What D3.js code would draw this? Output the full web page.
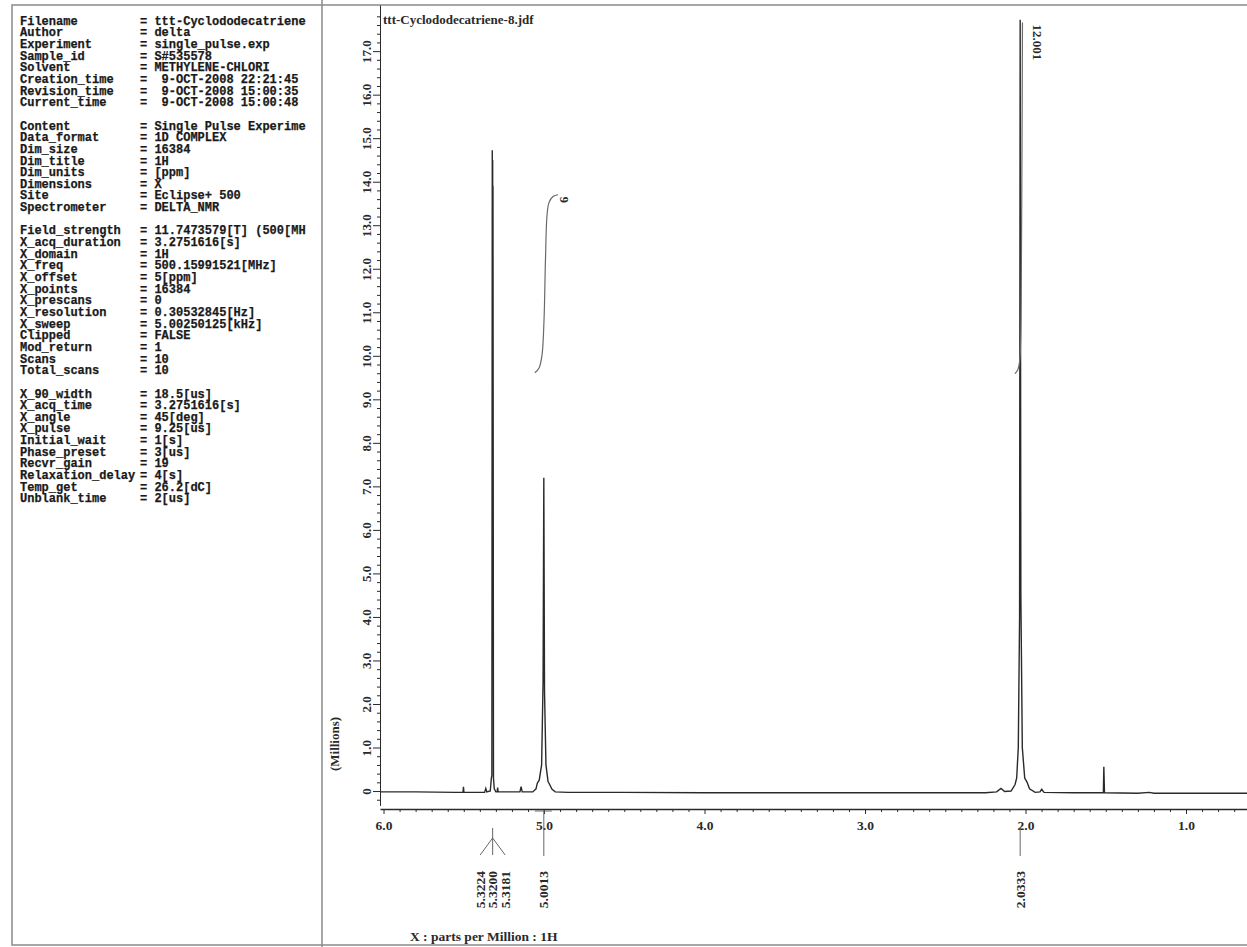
<!DOCTYPE html>
<html>
<head>
<meta charset="utf-8">
<script src="https://cdn.jsdelivr.net/npm/d3@7"></script>
<style>
body{margin:0;background:#fff;}
svg{display:block;}
.serif{font-family:"Liberation Serif","Times New Roman",serif;font-weight:bold;}
.mono{font-family:"Liberation Mono","Courier New",monospace;font-weight:bold;font-size:12px;}
</style>
</head>
<body>
<svg id="chart" width="1247" height="947"></svg>
<script>
// parameter listing (null = blank line)
const paramNames = ["Filename","Author","Experiment","Sample_id","Solvent","Creation_time","Revision_time","Current_time",null,
  "Content","Data_format","Dim_size","Dim_title","Dim_units","Dimensions","Site","Spectrometer",null,
  "Field_strength","X_acq_duration","X_domain","X_freq","X_offset","X_points","X_prescans","X_resolution","X_sweep","Clipped","Mod_return","Scans","Total_scans",null,
  "X_90_width","X_acq_time","X_angle","X_pulse","Initial_wait","Phase_preset","Recvr_gain","Relaxation_delay","Temp_get","Unblank_time"];
const paramValues = ["ttt-Cyclododecatriene","delta","single_pulse.exp","S#535578","METHYLENE-CHLORI"," 9-OCT-2008 22:21:45"," 9-OCT-2008 15:00:35"," 9-OCT-2008 15:00:48",null,
  "Single Pulse Experime","1D COMPLEX","16384","1H","[ppm]","X","Eclipse+ 500","DELTA_NMR",null,
  "11.7473579[T] (500[MH","3.2751616[s]","1H","500.15991521[MHz]","5[ppm]","16384","0","0.30532845[Hz]","5.00250125[kHz]","FALSE","1","10","10",null,
  "18.5[us]","3.2751616[s]","45[deg]","9.25[us]","1[s]","3[us]","19","4[s]","26.2[dC]","2[us]"];

// spectrum (ppm, millions)
const specPpm = [6.05,5.80,5.55,5.505,5.502,5.499,5.37,5.363,5.356,5.335,5.328,5.325,5.3224,5.3212,5.3200,5.3188,5.3181,5.315,5.31,5.30,
  5.292,5.289,5.286,5.15,5.143,5.136,5.07,5.05,5.042,5.03,5.015,5.006,5.0013,4.997,4.988,4.975,4.965,4.95,4.93,
  4.85,4.5,4.0,3.5,3.0,2.5,2.25,2.18,2.153,2.13,2.09,2.065,2.055,2.045,2.037,2.0333,2.029,2.02,2.005,1.99,1.975,
  1.94,1.91,1.899,1.885,1.7,1.515,1.512,1.508,1.3,1.23,1.2,0.9,0.55];
const specInt = [-0.02,-0.02,-0.03,-0.03,0.10,-0.03,-0.03,0.06,-0.02,0.0,0.30,0.35,14.72,6.0,14.5,5.5,13.9,0.3,0.05,-0.02,
  -0.02,0.08,-0.02,-0.02,0.10,-0.02,-0.02,0.05,0.18,0.25,0.6,2.5,7.2,2.3,0.6,0.22,0.15,0.04,-0.02,
  -0.03,-0.03,-0.04,-0.04,-0.04,-0.04,-0.04,-0.02,0.06,-0.01,0.0,0.15,0.3,1.0,4.0,17.72,4.5,1.0,0.3,0.2,0.05,
  -0.03,-0.02,0.04,-0.03,-0.04,-0.04,0.56,-0.04,-0.05,-0.03,-0.05,-0.05,-0.05];

// integral traces
const int1Ppm = [5.057,5.031,5.0125,5.0,4.991,4.981,4.969,4.944,4.913];
const int1Val = [9.61,9.72,10.02,10.83,12.21,13.24,13.52,13.66,13.70];
const int2Ppm = [2.066,2.048,2.037,2.030,2.026,2.022,2.019];
const int2Val = [9.59,9.68,9.86,10.37,11.91,14.74,17.66];
const integralLabels = ["6","12.001"];

// peak picks
const peakGroup = [0,0,0,1,2];
const peakPpm = [5.3224,5.3200,5.3181,5.0013,2.0333];
const peakLabels = ["5.3224","5.3200","5.3181","5.0013","2.0333"];

const xMajorTicks = [6,5,4,3,2,1];
const yMajorTicks = d3.range(0,18);

const svg = d3.select("#chart");
const ink = "#2a2a2a";

const x = d3.scaleLinear().domain([6.022, 0.62]).range([380, 1247]);
const y = d3.scaleLinear().domain([-0.33, 18.06]).range([805.4, 5]);

// frame
svg.append("rect").attr("x",12).attr("y",5).attr("width",1240).attr("height",940)
  .attr("fill","none").attr("stroke","#8a8a8a").attr("stroke-width",1.5);
svg.append("line").attr("x1",322).attr("x2",322).attr("y1",0).attr("y2",947)
  .attr("stroke","#8a8a8a").attr("stroke-width",1.5);

// parameter text
const nb = s => s.replace(/ /g,"\u00a0");
const rows = paramNames.map((n,i)=>({n, v: paramValues[i], i})).filter(d=>d.n!==null);
const pg = svg.append("g").attr("class","mono").attr("fill","#1a1a1a").attr("stroke","#1a1a1a").attr("stroke-width",0.25);
pg.selectAll("text.name").data(rows).enter().append("text").attr("class","name")
  .attr("x",20).attr("y",d=>24.7+11.65*d.i).text(d=>d.n);
pg.selectAll("text.val").data(rows).enter().append("text").attr("class","val")
  .attr("x",140).attr("y",d=>24.7+11.65*d.i).text(d=>nb("= "+d.v));

// clip
svg.append("clipPath").attr("id","plotclip").append("rect")
  .attr("x",380).attr("y",5).attr("width",867).attr("height",801);

// axes
const gx = svg.append("g").attr("transform","translate(0,809)").attr("color",ink)
  .call(d3.axisBottom(x).tickValues(xMajorTicks).tickFormat(d3.format(".1f")).tickSize(5).tickPadding(6).tickSizeOuter(0));
gx.attr("font-size",13.5).attr("font-family","Liberation Serif, serif").attr("font-weight","bold");
gx.select(".domain").attr("stroke-width",1.3);
svg.append("g").attr("transform","translate(0,809)").attr("color",ink)
  .call(d3.axisBottom(x).tickValues(d3.range(7,61).filter(d=>d%10!==0).map(d=>d/10)).tickSize(3).tickFormat(""))
  .call(g=>g.select(".domain").remove());

const gy = svg.append("g").attr("transform","translate(380,0)").attr("color",ink)
  .call(d3.axisLeft(y).tickValues(yMajorTicks).tickSize(7).tickSizeOuter(0)
    .tickFormat(d=>d===0?"0":d3.format(".1f")(d)));
gy.attr("font-size",13).attr("font-family","Liberation Serif, serif").attr("font-weight","bold");
gy.selectAll(".tick text").attr("x",null).attr("dy",null).attr("text-anchor","middle")
  .attr("transform","translate(-9,0) rotate(-90)");
svg.append("g").attr("transform","translate(380,0)").attr("color",ink)
  .call(d3.axisLeft(y).tickValues(d3.range(-1,91).filter(d=>d%5!==0).map(d=>d/5)).tickSize(3).tickFormat(""))
  .call(g=>g.select(".domain").remove());

// spectrum
const spec = specPpm.map((p,i)=>[p,specInt[i]]);
svg.append("path").datum(spec).attr("clip-path","url(#plotclip)")
  .attr("fill","none").attr("stroke",ink).attr("stroke-width",1.4)
  .attr("d", d3.line().x(d=>x(d[0])).y(d=>y(d[1])));

// integrals
const integrals = [int1Ppm.map((p,i)=>[p,int1Val[i]]), int2Ppm.map((p,i)=>[p,int2Val[i]])];
svg.selectAll("path.integral").data(integrals).enter().append("path").attr("class","integral")
  .attr("fill","none").attr("stroke","#6a6a6a").attr("stroke-width",1.2)
  .attr("d", d3.line().x(d=>x(d[0])).y(d=>y(d[1])).curve(d3.curveCatmullRom));
svg.selectAll("text.intlab").data(integrals).enter().append("text").attr("class","intlab serif")
  .attr("font-size",13).attr("fill",ink)
  .attr("text-anchor",(d,i)=>i===0?"middle":"start")
  .attr("transform",(d,i)=>{
    const last = d[d.length-1];
    return i===0 ? `translate(${x(last[0])+10},${y(last[1])+5}) rotate(-90)`
                 : `translate(${x(last[0])+11},${y(last[1])+2}) rotate(90)`;
  })
  .text((d,i)=>integralLabels[i]);

// peak pick markers
const groups = d3.groups(peakPpm.map((p,i)=>({p,lab:peakLabels[i],g:peakGroup[i]})), d=>d.g);
const pk = svg.append("g").attr("stroke","#666").attr("stroke-width",1);
groups.forEach(([g,items])=>{
  const cx = x(d3.mean(items,d=>d.p));
  const n = items.length;
  if(n>1){
    pk.append("line").attr("x1",cx).attr("x2",cx).attr("y1",828).attr("y2",838);
    items.forEach((d,k)=>{
      const lx = cx + (k-(n-1)/2)*12.5;
      pk.append("line").attr("x1",cx).attr("x2",lx).attr("y1",838).attr("y2",855);
      d.lx = lx;
    });
  } else {
    const top = Math.abs(items[0].p-5)<0.1 ? 810 : 828;
    pk.append("line").attr("x1",cx).attr("x2",cx).attr("y1",top).attr("y2",856);
    if(top===810) pk.append("line").attr("x1",cx-9).attr("x2",cx+8).attr("y1",811).attr("y2",811);
    items[0].lx = cx;
  }
  items.forEach(d=>{
    svg.append("text").attr("class","serif").attr("font-size",13.5).attr("fill",ink)
      .attr("text-anchor","end")
      .attr("transform",`translate(${d.lx+4.5},871) rotate(-90)`).text(d.lab);
  });
});

// titles
svg.append("text").attr("class","serif").attr("font-size",13).attr("fill",ink)
  .attr("x",383).attr("y",24).text("ttt-Cyclododecatriene-8.jdf");
svg.append("text").attr("class","serif").attr("font-size",13).attr("fill",ink)
  .attr("text-anchor","middle").attr("transform","translate(339,744) rotate(-90)").text("(Millions)");
svg.append("text").attr("class","serif").attr("font-size",13.5).attr("fill",ink)
  .attr("x",410).attr("y",941).text("X : parts per Million : 1H");
</script>
</body>
</html>
